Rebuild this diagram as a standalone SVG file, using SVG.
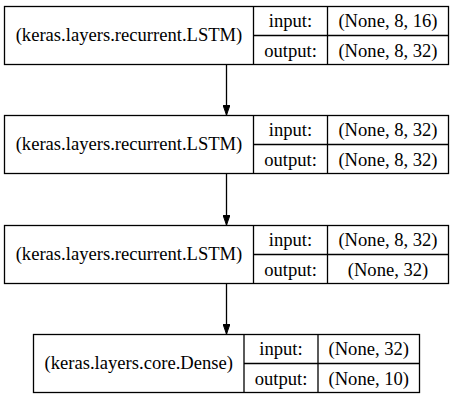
<svg xmlns="http://www.w3.org/2000/svg" width="453" height="400" viewBox="0 0 453 400">
<defs>
<style>
.box{fill:#fff;stroke:#000;stroke-width:1.3}
.ln{stroke:#000;stroke-width:1.3;fill:none}
text{font-family:"Liberation Serif","Times New Roman",serif;font-size:18.6px;fill:#000;text-anchor:middle}
</style>
<marker id="ah" markerWidth="10" markerHeight="7" refX="10" refY="3.5" orient="auto" markerUnits="userSpaceOnUse">
<polygon points="0,0 10,3.5 0,7" fill="#000" stroke="#000" stroke-width="1"/>
</marker>
</defs>
<rect width="453" height="400" fill="#fff"/>
<g id="connectors">
<line class="ln" x1="226.5" y1="64.5" x2="226.5" y2="115" marker-end="url(#ah)"/>
<line class="ln" x1="226.5" y1="173.5" x2="226.5" y2="225" marker-end="url(#ah)"/>
<line class="ln" x1="226.5" y1="283.5" x2="226.5" y2="334" marker-end="url(#ah)"/>
</g>
<g id="node1">
<rect class="box" x="4.5" y="6.5" width="444" height="58"/>
<line class="ln" x1="253.5" y1="6.5" x2="253.5" y2="64.5"/>
<line class="ln" x1="327.5" y1="6.5" x2="327.5" y2="64.5"/>
<line class="ln" x1="253.5" y1="35.5" x2="448.5" y2="35.5"/>
<text x="129" y="41">(keras.layers.recurrent.LSTM)</text>
<text x="290.5" y="27">input:</text>
<text x="290.5" y="57">output:</text>
<text x="388" y="27">(None, 8, 16)</text>
<text x="388" y="57">(None, 8, 32)</text>
</g>
<g id="node2">
<rect class="box" x="4.5" y="115.5" width="444" height="58"/>
<line class="ln" x1="253.5" y1="115.5" x2="253.5" y2="173.5"/>
<line class="ln" x1="327.5" y1="115.5" x2="327.5" y2="173.5"/>
<line class="ln" x1="253.5" y1="144.5" x2="448.5" y2="144.5"/>
<text x="129" y="150">(keras.layers.recurrent.LSTM)</text>
<text x="290.5" y="136">input:</text>
<text x="290.5" y="166">output:</text>
<text x="388" y="136">(None, 8, 32)</text>
<text x="388" y="166">(None, 8, 32)</text>
</g>
<g id="node3">
<rect class="box" x="4.5" y="225.5" width="444" height="58"/>
<line class="ln" x1="253.5" y1="225.5" x2="253.5" y2="283.5"/>
<line class="ln" x1="327.5" y1="225.5" x2="327.5" y2="283.5"/>
<line class="ln" x1="253.5" y1="254.5" x2="448.5" y2="254.5"/>
<text x="129" y="260">(keras.layers.recurrent.LSTM)</text>
<text x="290.5" y="246">input:</text>
<text x="290.5" y="276">output:</text>
<text x="388" y="246">(None, 8, 32)</text>
<text x="388" y="276">(None, 32)</text>
</g>
<g id="node4">
<rect class="box" x="33.5" y="334.5" width="386" height="58"/>
<line class="ln" x1="244" y1="334.5" x2="244" y2="392.5"/>
<line class="ln" x1="318" y1="334.5" x2="318" y2="392.5"/>
<line class="ln" x1="244" y1="363.5" x2="419.5" y2="363.5"/>
<text x="138.75" y="369">(keras.layers.core.Dense)</text>
<text x="281" y="355">input:</text>
<text x="281" y="385">output:</text>
<text x="368.75" y="355">(None, 32)</text>
<text x="368.75" y="385">(None, 10)</text>
</g>
</svg>
